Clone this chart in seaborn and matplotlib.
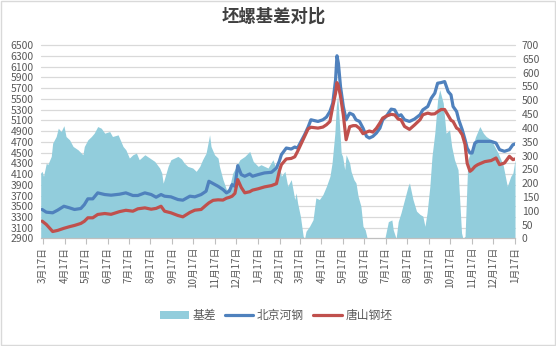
import matplotlib
matplotlib.use("Agg")
import matplotlib.pyplot as plt
import matplotlib.transforms as mtransforms
from matplotlib.patches import Patch, Rectangle
from matplotlib.lines import Line2D
import seaborn as sns
import pandas as pd

# ---------------- data ----------------
line_dates = [
    "2017-03-16", "2017-03-22", "2017-03-31", "2017-04-07", "2017-04-16", "2017-04-24",
    "2017-05-01", "2017-05-10", "2017-05-15", "2017-05-20", "2017-05-27", "2017-06-03",
    "2017-06-13", "2017-06-22", "2017-07-04", "2017-07-13", "2017-07-23", "2017-07-30",
    "2017-08-09", "2017-08-18", "2017-08-25", "2017-09-01", "2017-09-06", "2017-09-15",
    "2017-09-25", "2017-10-02", "2017-10-12", "2017-10-19", "2017-10-28", "2017-11-04",
    "2017-11-08", "2017-11-14", "2017-11-21", "2017-11-28", "2017-12-03", "2017-12-07",
    "2017-12-11", "2017-12-15", "2017-12-19", "2017-12-24", "2017-12-29", "2018-01-05",
    "2018-01-09", "2018-01-17", "2018-01-26", "2018-02-05", "2018-02-12", "2018-02-16",
    "2018-02-19", "2018-02-26", "2018-03-05", "2018-03-10", "2018-03-14", "2018-03-19",
    "2018-03-24", "2018-03-29", "2018-04-02", "2018-04-12", "2018-04-19", "2018-04-24",
    "2018-04-29", "2018-05-03", "2018-05-07", "2018-05-09", "2018-05-11", "2018-05-14",
    "2018-05-18", "2018-05-22", "2018-05-27", "2018-06-01", "2018-06-05", "2018-06-10",
    "2018-06-15", "2018-06-20", "2018-06-24", "2018-06-29", "2018-07-04", "2018-07-09",
    "2018-07-13", "2018-07-18", "2018-07-25", "2018-07-30", "2018-08-04", "2018-08-08",
    "2018-08-13", "2018-08-20", "2018-08-27", "2018-09-04", "2018-09-08", "2018-09-15",
    "2018-09-20", "2018-09-25", "2018-09-29", "2018-10-04", "2018-10-09", "2018-10-14",
    "2018-10-18", "2018-10-21", "2018-10-26", "2018-10-29", "2018-11-03", "2018-11-07",
    "2018-11-10", "2018-11-14", "2018-11-17", "2018-11-21", "2018-11-25", "2018-12-05",
    "2018-12-14", "2018-12-21", "2018-12-26", "2019-01-02", "2019-01-09", "2019-01-14",
    "2019-01-17",
]

beijing_hegang = [
    3440, 3390, 3378, 3427, 3500, 3470,
    3440, 3458, 3530, 3638, 3638, 3749,
    3718, 3706, 3724, 3749, 3700, 3700,
    3749, 3718, 3668, 3718, 3687, 3675,
    3625, 3613, 3687, 3675, 3718, 3780,
    3965, 3922, 3872, 3811, 3749, 3780,
    3903, 3872, 4256, 4089, 4058, 4101,
    4058, 4089, 4120, 4132, 4212, 4336,
    4460, 4583, 4565, 4602, 4583, 4707,
    4831, 4973, 5109, 5078, 5109, 5158,
    5263, 5418, 5851, 6300, 6160, 5727,
    5356, 5109, 5233, 5202, 5109, 5078,
    4954, 4800, 4769, 4800, 4862, 4954,
    5109, 5171, 5307, 5294, 5177, 5202,
    5109, 5078, 5121, 5202, 5294, 5356,
    5511, 5604, 5789, 5801, 5820, 5634,
    5573, 5356, 5263, 5109, 4923, 4738,
    4583, 4491, 4491, 4676, 4707, 4707,
    4707, 4676, 4553, 4522, 4553, 4645,
    4660,
]

tangshan_billet = [
    3223, 3161, 3030, 3050, 3090, 3120,
    3143, 3180, 3220, 3285, 3285, 3347,
    3365, 3350, 3400, 3425, 3408, 3452,
    3470, 3445, 3460, 3500, 3408, 3378,
    3328, 3303, 3385, 3427, 3440, 3520,
    3563, 3610, 3620, 3615, 3650, 3665,
    3687, 3740, 3996, 3850, 3750, 3770,
    3800, 3825, 3860, 3885, 3920, 4150,
    4274, 4380, 4390, 4420, 4520, 4660,
    4800, 4940, 4970, 4954, 4973, 5016,
    5078, 5356, 5604, 5800, 5740, 5550,
    5200, 4738, 4980, 5000, 5000, 4950,
    4850, 4880, 4900, 4880, 4950, 5050,
    5140, 5177, 5210, 5200, 5121, 5109,
    4985, 4930, 5010, 5110, 5202, 5233,
    5215, 5220, 5260, 5300, 5300, 5190,
    5100, 5078, 4954, 4930, 4830, 4650,
    4300, 4150, 4180, 4240, 4274, 4330,
    4350, 4398, 4274, 4305, 4429, 4367,
    4380,
]

basis_dates = [
    "2017-03-14", "2017-03-16", "2017-03-18", "2017-03-22", "2017-03-24", "2017-03-29",
    "2017-03-31", "2017-04-05", "2017-04-08", "2017-04-12", "2017-04-16", "2017-04-19",
    "2017-04-24", "2017-04-29", "2017-05-06", "2017-05-13", "2017-05-15", "2017-05-20",
    "2017-05-25", "2017-05-29", "2017-06-03", "2017-06-08", "2017-06-13", "2017-06-20",
    "2017-06-24", "2017-07-02", "2017-07-09", "2017-07-13", "2017-07-18", "2017-07-23",
    "2017-07-28", "2017-08-01", "2017-08-09", "2017-08-16", "2017-08-23", "2017-08-30",
    "2017-09-02", "2017-09-04", "2017-09-11", "2017-09-15", "2017-09-25", "2017-09-30",
    "2017-10-04", "2017-10-09", "2017-10-16", "2017-10-21", "2017-10-26", "2017-10-30",
    "2017-11-04", "2017-11-09", "2017-11-11", "2017-11-16", "2017-11-21", "2017-11-23",
    "2017-11-28", "2017-12-03", "2017-12-07", "2017-12-12", "2017-12-17", "2017-12-22",
    "2017-12-29", "2018-01-05", "2018-01-10", "2018-01-17", "2018-01-21", "2018-01-31",
    "2018-02-07", "2018-02-12", "2018-02-16", "2018-02-19", "2018-02-24", "2018-02-28",
    "2018-03-05", "2018-03-10", "2018-03-12", "2018-03-14", "2018-03-18", "2018-03-22",
    "2018-03-24", "2018-03-26", "2018-03-31", "2018-04-05", "2018-04-09", "2018-04-14",
    "2018-04-19", "2018-04-24", "2018-04-29", "2018-05-02", "2018-05-06", "2018-05-08",
    "2018-05-10", "2018-05-15", "2018-05-17", "2018-05-20", "2018-05-22", "2018-05-25",
    "2018-05-27", "2018-05-29", "2018-06-02", "2018-06-05", "2018-06-08", "2018-06-12",
    "2018-06-15", "2018-06-18", "2018-06-21", "2018-07-16", "2018-07-21", "2018-07-26",
    "2018-07-28", "2018-08-01", "2018-08-04", "2018-08-08", "2018-08-13", "2018-08-18",
    "2018-08-20", "2018-08-25", "2018-08-30", "2018-09-04", "2018-09-08", "2018-09-11",
    "2018-09-14", "2018-09-18", "2018-09-21", "2018-09-25", "2018-09-29", "2018-10-02",
    "2018-10-07", "2018-10-11", "2018-10-16", "2018-10-19", "2018-10-23", "2018-10-28",
    "2018-11-02", "2018-11-04", "2018-11-07", "2018-11-11", "2018-11-16", "2018-11-22",
    "2018-11-28", "2018-12-03", "2018-12-07", "2018-12-14", "2018-12-24", "2018-12-31",
    "2019-01-06", "2019-01-11", "2019-01-14", "2019-01-17",
]

basis = [
    237, 243, 225, 273, 267, 297,
    345, 369, 399, 387, 408, 369,
    357, 333, 321, 303, 333, 357,
    369, 381, 405, 399, 381, 387,
    369, 375, 333, 321, 291, 303,
    309, 285, 303, 291, 279, 255,
    237, 200, 261, 285, 297, 288,
    273, 261, 255, 243, 261, 285,
    309, 375, 333, 303, 291, 261,
    213, 177, 183, 237, 261, 285,
    297, 315, 279, 261, 267, 255,
    285, 249, 267, 225, 243, 189,
    213, 141, 165, 129, 81, 8,
    0, 26, 44, 68, 147, 141,
    159, 189, 225, 273, 381, 477,
    520, 309, 297, 249, 303, 285,
    273, 243, 213, 201, 153, 117,
    44, 32, 0, 0, 61, 67,
    31, 0, 61, 93, 141, 189,
    201, 141, 99, 87, 81, 44,
    93, 189, 297, 381, 502, 538,
    490, 381, 393, 333, 285, 249,
    20, 0, 8, 285, 321, 369,
    405, 381, 369, 357, 309, 267,
    189, 225, 237, 285,
]

tick_labels = ["3月17日", "4月17日", "5月17日", "6月17日", "7月17日", "8月17日",
               "9月17日", "10月17日", "11月17日", "12月17日", "1月17日", "2月17日",
               "3月17日", "4月17日", "5月17日", "6月17日", "7月17日", "8月17日",
               "9月17日", "10月17日", "11月17日", "12月17日", "1月17日"]

series_names = ["基差", "北京河钢", "唐山钢坯"]
title = "坯螺基差对比"

# ---------------- style ----------------
sns.set_theme(style="white")
plt.rcParams["font.family"] = ["Noto Sans CJK SC", "DejaVu Sans"]

C_AREA = "#92CDDC"
C_BLUE = "#4F81BD"
C_RED = "#C0504D"
C_TEXT = "#595959"
C_GRID = "#D9D9D9"

lines_df = pd.DataFrame({
    "date": pd.to_datetime(line_dates),
    "bj": beijing_hegang,
    "ts": tangshan_billet,
})
area_df = pd.DataFrame({"date": pd.to_datetime(basis_dates), "basis": basis})
tick_dates = pd.date_range("2017-03-17", periods=len(tick_labels),
                           freq=pd.DateOffset(months=1))

fig = plt.figure(figsize=(5.56, 3.46), dpi=100)
ax_l = fig.add_axes([0.0732, 0.3107, 0.8531, 0.5592])
ax_r = ax_l.twinx()
ax_l.set_zorder(ax_r.get_zorder() + 1)
ax_l.patch.set_visible(False)

# limits
ax_l.set_ylim(2900, 6500)
ax_r.set_ylim(0, 700)
x0 = pd.Timestamp(basis_dates[0])
x1 = pd.Timestamp(line_dates[-1])
ax_l.set_xlim(x0, x1)

# gridlines (behind area) at left-axis tick positions
left_ticks = list(range(2900, 6501, 200))
blend = mtransforms.blended_transform_factory(ax_r.transAxes, ax_l.transData)
for v in left_ticks[1:]:
    ax_r.plot([0, 1], [v, v], transform=blend, color=C_GRID, lw=0.9, zorder=0,
              clip_on=False)

# area
ax_r.fill_between(area_df["date"], area_df["basis"], 0, color=C_AREA,
                  linewidth=0, zorder=2)

# lines
sns.lineplot(data=lines_df, x="date", y="bj", ax=ax_l, color=C_BLUE,
             linewidth=2.3, legend=False)
sns.lineplot(data=lines_df, x="date", y="ts", ax=ax_l, color=C_RED,
             linewidth=2.3, legend=False)
ax_l.set_xlim(x0, x1)

# axes styling
ax_l.set_xlabel("")
ax_l.set_ylabel("")
ax_r.set_ylabel("")
for sp in ax_l.spines.values():
    sp.set_visible(False)
for sp in ax_r.spines.values():
    sp.set_visible(False)
ax_l.spines["bottom"].set_visible(True)
ax_l.spines["bottom"].set_color("#BFBFBF")
ax_l.spines["bottom"].set_linewidth(0.9)

ax_l.set_yticks(left_ticks)
ax_l.set_yticklabels([str(v) for v in left_ticks])
ax_r.set_yticks(list(range(0, 701, 50)))
ax_r.set_yticklabels([str(v) for v in range(0, 701, 50)])

ax_l.set_xticks(tick_dates)
ax_l.set_xticklabels(tick_labels, rotation=90)
ax_l.tick_params(axis="x", direction="out", length=4, width=0.8, color="#BFBFBF",
                 labelsize=7, labelcolor=C_TEXT, pad=2, bottom=True)
ax_l.tick_params(axis="y", length=0, labelsize=7.5, labelcolor=C_TEXT, pad=5)
ax_r.tick_params(axis="y", length=0, labelsize=7.5, labelcolor=C_TEXT, pad=5)
ax_l.grid(False)
ax_r.grid(False)

# title
fig.text(0.492, 0.953, title, ha="center", va="center", fontsize=12.5,
         fontweight="bold", color="#404040")

# legend
handles = [
    Patch(facecolor=C_AREA, edgecolor="none"),
    Line2D([], [], color=C_BLUE, lw=2.3),
    Line2D([], [], color=C_RED, lw=2.3),
]
fig.legend(handles, series_names, loc="center", bbox_to_anchor=(0.497, 0.088),
           ncol=3, frameon=False, fontsize=8.5, handlelength=2.4,
           handletextpad=0.3, columnspacing=0.8, labelcolor=C_TEXT)

# chart border
fig.patches.append(Rectangle((0.001, 0.002), 0.997, 0.996, transform=fig.transFigure,
                             fill=False, edgecolor=C_GRID, lw=1))

fig.savefig("out.png", dpi=100)
